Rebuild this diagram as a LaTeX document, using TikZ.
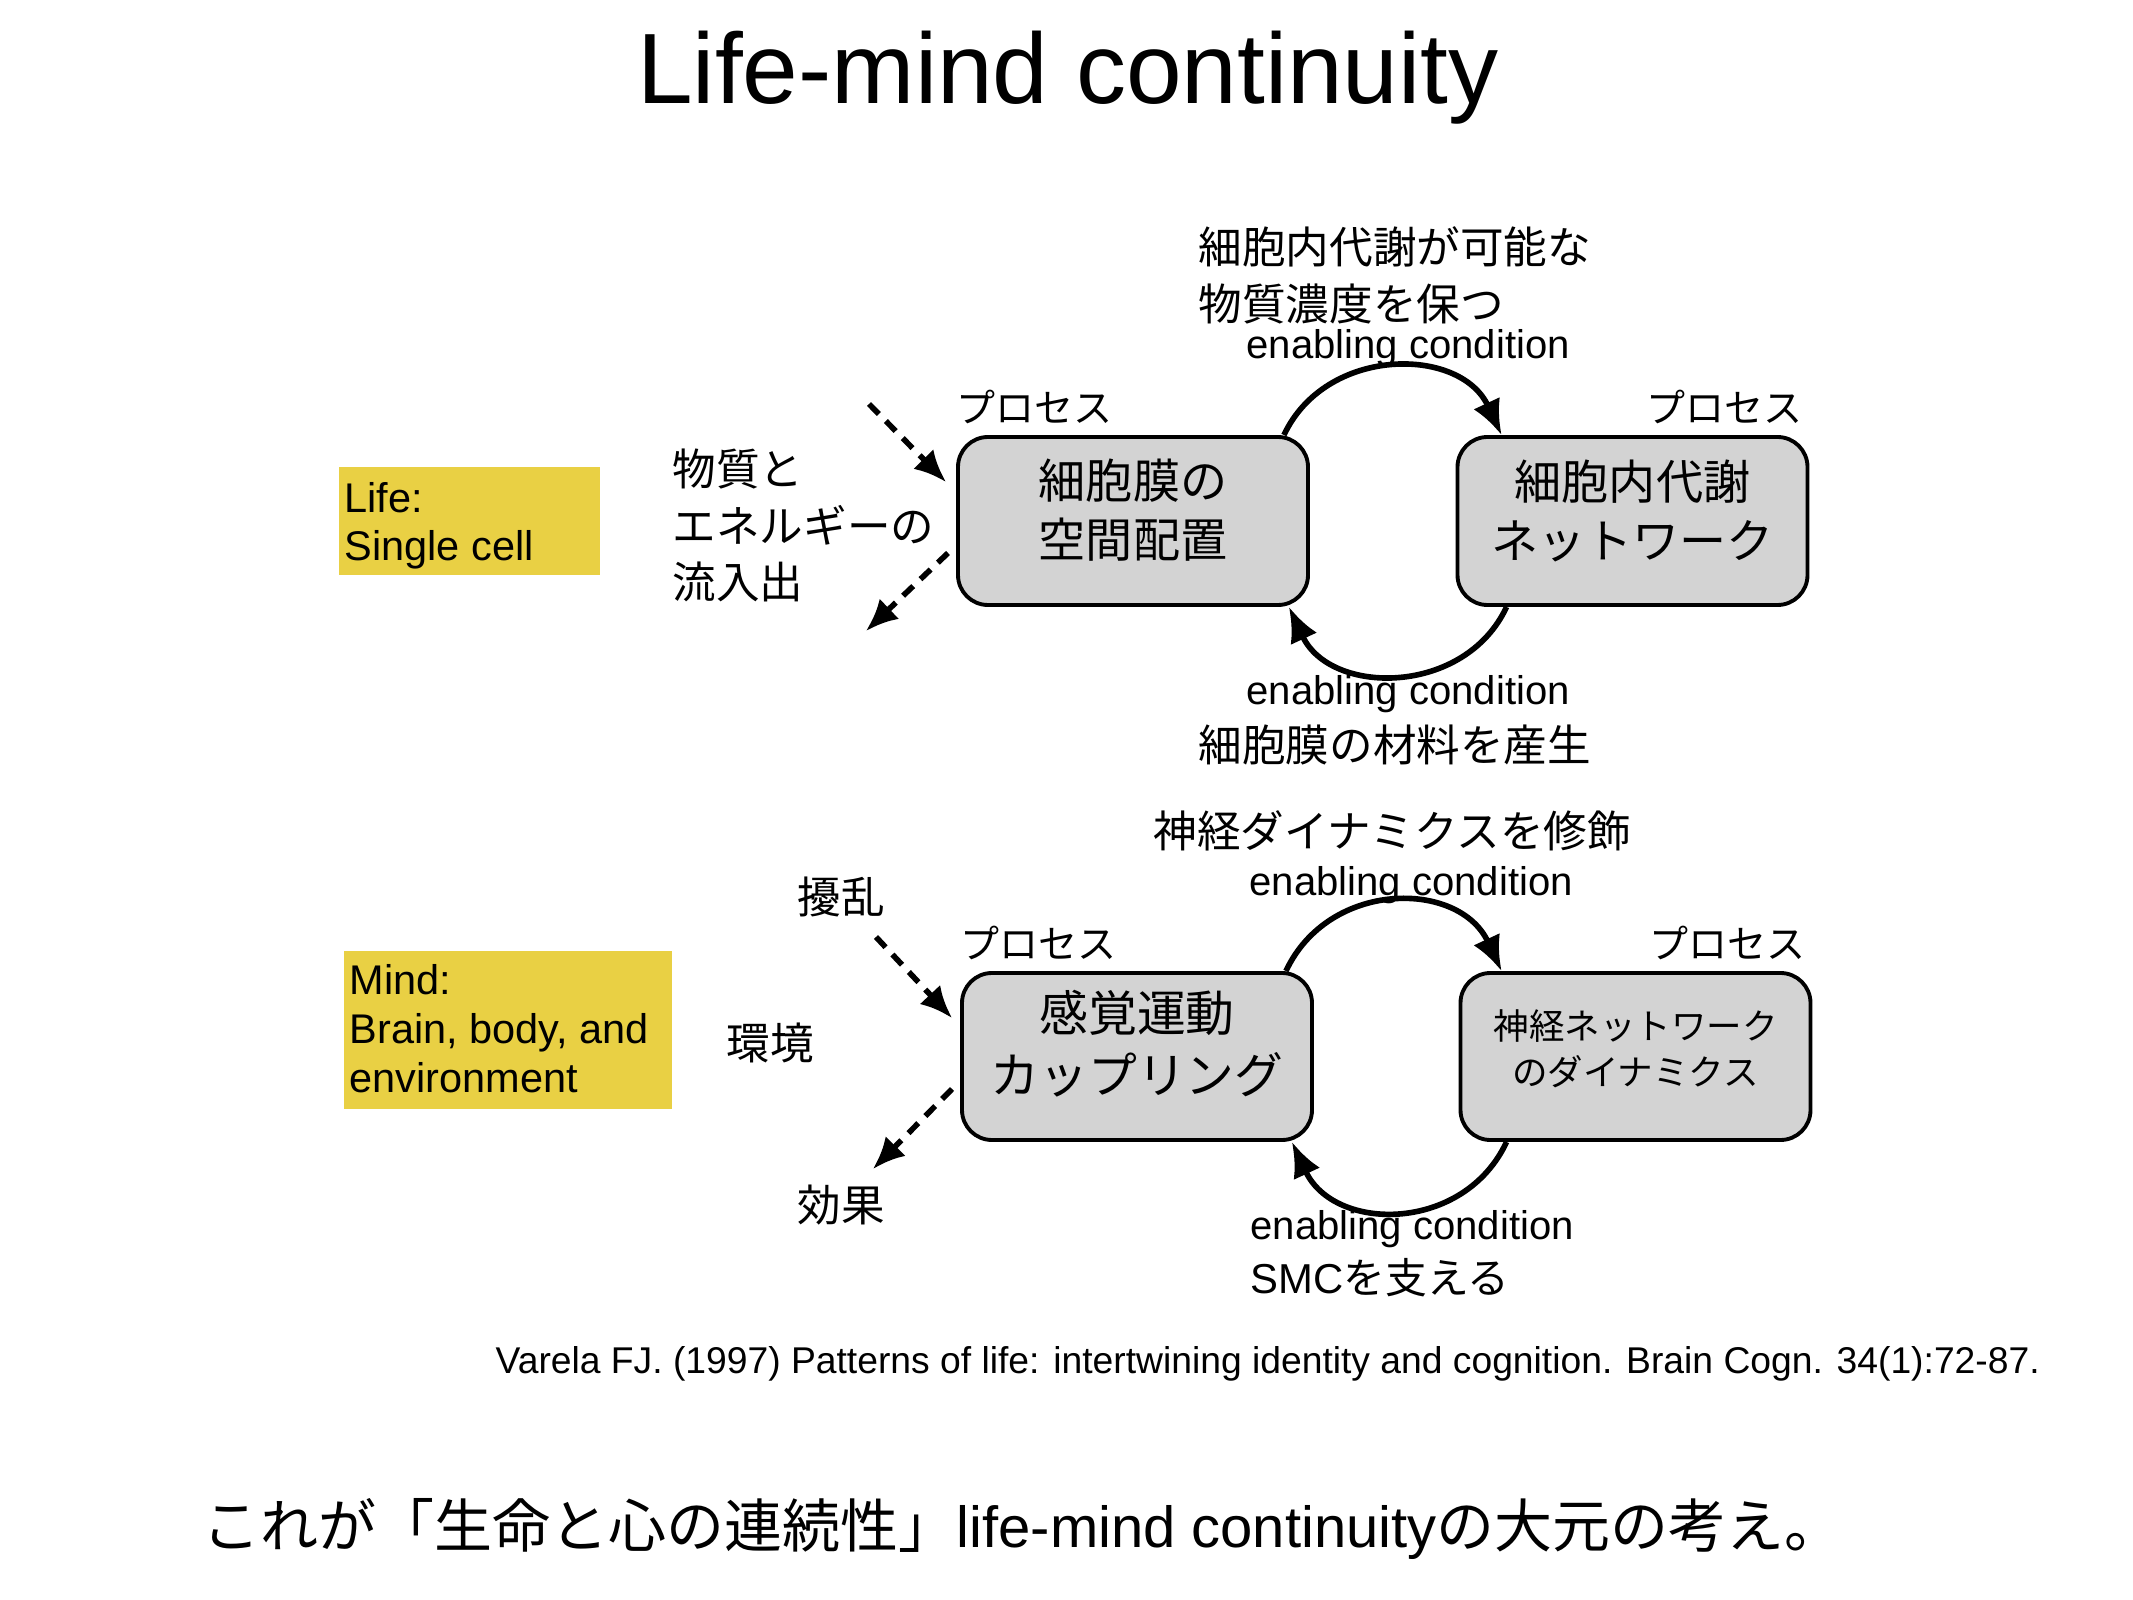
\documentclass[tikz,border=0pt]{standalone}
\usepackage{fontspec}
\setmainfont{Liberation Sans}
\newfontfamily\jp{Noto Sans CJK JP}
\usetikzlibrary{arrows.meta}
\definecolor{tagyellow}{RGB}{233,208,68}
\definecolor{boxgray}{RGB}{211,211,211}

\begin{document}
\begin{tikzpicture}[
    procbox/.style={draw, line width=1.1pt, fill=boxgray, rounded corners=0.3cm, minimum width=3.5cm, minimum height=1.68cm},
    boxtext/.style={align=center, inner sep=0pt, font=\jp\fontsize{13.4}{16.8}\selectfont},
    proclabel/.style={inner sep=0pt, font=\jp\fontsize{11.1}{13}\selectfont},
    tagbox/.style={fill=tagyellow, inner sep=0pt},
    tagtext/.style={align=left, inner sep=0pt, font=\fontsize{11.8}{13.9}\selectfont},
    jlabel/.style={align=left, inner sep=0pt, font=\jp\fontsize{12.4}{16.2}\selectfont},
    enab/.style={inner sep=0pt, font=\fontsize{11.4}{13}\selectfont},
    cond/.style={line width=1.6pt, -{Latex[length=3.5mm,width=2.9mm]}},
    flow/.style={line width=1.6pt, dash pattern=on 1.4mm off 1mm, -{Latex[length=3.2mm,width=2.8mm]}}
  ]
  \useasboundingbox (0,0) rectangle (21.33,-16);
  \node[anchor=base, inner sep=0pt, font=\fontsize{28.45}{34}\selectfont] (title) at (10.68,-1.04) {Life-mind continuity};

  % life
  \node[tagbox, minimum width=2.61cm, minimum height=1.08cm] (lifebox) at (4.695,-5.21) {};
  \node[tagtext, anchor=base west] (lifetxt) at (3.44,-5.61) {Life:\\Single cell};
  \node[jlabel, anchor=base west] (matter) at (6.72,-5.99) {物質と\\エネルギーの\\流入出};
  \node[procbox] (mem) at (11.33,-5.21) {};
  \node[procbox] (meta) at (16.325,-5.21) {};
  \node[boxtext] (memtxt) at ([yshift=1.05mm]mem.center) {細胞膜の\\空間配置};
  \node[boxtext] (metatxt) at ([yshift=1.05mm]meta.center) {細胞内代謝\\ネットワーク};
  \node[proclabel, anchor=base west] (memproc) at ([yshift=1.3mm]mem.north west) {プロセス};
  \node[proclabel, anchor=base east] (metaproc) at ([xshift=-0.6mm,yshift=1.3mm]meta.north east) {プロセス};
  \node[jlabel, anchor=base west] (keep) at (11.98,-3.205) {細胞内代謝が可能な\\物質濃度を保つ};
  \node[enab, anchor=base west] (enab1) at (12.46,-3.59) {enabling condition};
  \node[enab, anchor=base west] (enab2) at (12.46,-7.05) {enabling condition};
  \node[jlabel, anchor=base west] (make) at (11.98,-7.615) {細胞膜の材料を産生};
  \coordinate (in1) at (8.69,-4.04);
  \coordinate (in1t) at (9.46,-4.82);
  \coordinate (out1) at (9.48,-5.53);
  \coordinate (out1t) at (8.66,-6.31);
  \draw[flow] (in1) -- (in1t);
  \draw[flow] (out1) -- (out1t);
  \draw[cond] ([xshift=-2.6mm]mem.north east) to[out=65,in=115,looseness=1.16] ([xshift=4.6mm]meta.north west);
  \draw[cond] ([xshift=5.1mm]meta.south west) to[out=-115,in=-65,looseness=1.16] ([xshift=-2.1mm]mem.south east);

  % mind
  \node[tagbox, minimum width=3.28cm, minimum height=1.58cm] (mindbox) at (5.08,-10.30) {};
  \node[tagtext, anchor=base west] (mindtxt) at (3.49,-10.92) {Mind:\\Brain, body, and\\environment};
  \node[jlabel] (dist) at (8.41,-8.97) {擾乱};
  \node[jlabel] (env) at (7.70,-10.43) {環境};
  \node[jlabel] (eff) at (8.41,-12.05) {効果};
  \node[procbox, minimum height=1.67cm] (smc) at (11.37,-10.565) {};
  \node[procbox, minimum height=1.67cm] (neuro) at (16.355,-10.565) {};
  \node[boxtext, font=\jp\fontsize{13.9}{17.6}\selectfont] (smctxt) at ([yshift=1.25mm]smc.center) {感覚運動\\カップリング};
  \node[boxtext, font=\jp\fontsize{10.1}{13.1}\selectfont] (neurotxt) at ([yshift=0.75mm]neuro.center) {神経ネットワーク\\のダイナミクス};
  \node[proclabel, anchor=base west] (smcproc) at ([yshift=1.3mm]smc.north west) {プロセス};
  \node[proclabel, anchor=base east] (neuroproc) at ([xshift=-0.6mm,yshift=1.3mm]neuro.north east) {プロセス};
  \node[jlabel, anchor=base west] (modul) at (11.53,-8.475) {神経ダイナミクスを修飾};
  \node[enab, anchor=base west] (enab3) at (12.49,-8.95) {enabling condition};
  \node[enab, anchor=base west] (enab4) at (12.50,-12.39) {enabling condition};
  \node[enab, anchor=base west, font=\fontsize{11.9}{13}\selectfont] (support) at (12.50,-12.93) {SMC{\jp を支える}};
  \coordinate (in2) at (8.76,-9.37);
  \coordinate (in2t) at (9.52,-10.18);
  \coordinate (out2) at (9.52,-10.89);
  \coordinate (out2t) at (8.73,-11.69);
  \draw[flow] (in2) -- (in2t);
  \draw[flow] (out2) -- (out2t);
  \draw[cond] ([xshift=-2.8mm]smc.north east) to[out=65,in=115,looseness=1.2] ([xshift=4.3mm]neuro.north west);
  \draw[cond] ([xshift=4.8mm]neuro.south west) to[out=-115,in=-65,looseness=1.2] ([xshift=-2.2mm]smc.south east);

  \node[anchor=base west, inner sep=0pt, font=\fontsize{10.6}{12}\selectfont] (ref) at (4.95,-13.73) {Varela FJ. (1997) Patterns of life: intertwining identity and cognition. Brain Cogn. 34(1):72-87.};
  \node[anchor=base west, inner sep=0pt, font=\fontsize{16.5}{19}\selectfont] (gist) at (2.02,-15.47) {{\jp これが「生命と心の連続性」}life-mind continuity{\jp の大元の考え。}};
\end{tikzpicture}
\end{document}
